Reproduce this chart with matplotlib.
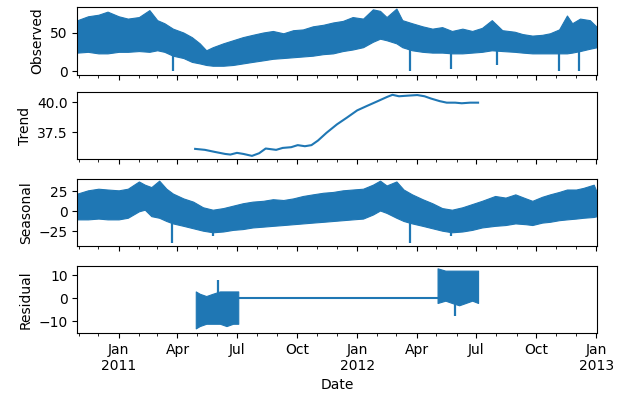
import numpy as np
import pandas as pd
import matplotlib
matplotlib.use("Agg")
import matplotlib.pyplot as plt
import matplotlib.dates as mdates
from matplotlib.ticker import FuncFormatter

# observed: band (lower / upper edge)
obs_dates = ['2010-10-30', '2010-11-15', '2010-12-01', '2010-12-15', '2011-01-01', '2011-01-15',
             '2011-02-01', '2011-02-17', '2011-03-01', '2011-03-12', '2011-03-25', '2011-04-10',
             '2011-04-23', '2011-05-05', '2011-05-15', '2011-05-25', '2011-06-10', '2011-06-25',
             '2011-07-10', '2011-07-25', '2011-08-10', '2011-08-25', '2011-09-10', '2011-09-25',
             '2011-10-10', '2011-10-25', '2011-11-10', '2011-11-25', '2011-12-10', '2011-12-25',
             '2012-01-10', '2012-01-25', '2012-02-05', '2012-02-15', '2012-03-01', '2012-03-10',
             '2012-03-25', '2012-04-10', '2012-04-25', '2012-05-10', '2012-05-25', '2012-06-10',
             '2012-06-25', '2012-07-10', '2012-07-25', '2012-08-10', '2012-08-29', '2012-09-10',
             '2012-09-25', '2012-10-10', '2012-10-22', '2012-11-05', '2012-11-17', '2012-11-25',
             '2012-12-07', '2012-12-22', '2013-01-02']
obs_low = [24, 25, 23, 23, 25, 25, 26, 25, 27, 25, 20, 17, 12, 10, 8, 7, 7, 8, 10, 12, 14, 16,
           17, 18, 19, 20, 22, 23, 26, 28, 31, 38, 42, 40, 36, 31, 27, 25, 24, 24, 23, 23, 24,
           25, 27, 26, 25, 24, 23, 23, 23, 23, 23, 24, 26, 29, 31]
obs_high = [66, 71, 73, 77, 71, 68, 70, 79, 66, 62, 55, 50, 44, 36, 27, 31, 36, 40, 44, 47, 50,
            52, 49, 53, 54, 58, 60, 63, 65, 70, 68, 80, 78, 70, 81, 66, 62, 58, 55, 57, 52, 55,
            52, 56, 66, 53, 51, 48, 46, 47, 49, 54, 72, 62, 68, 66, 57]
obs_dip_dates = ['2011-03-25', '2012-03-22', '2012-05-24', '2012-08-02', '2012-11-05', '2012-12-06']
obs_dip_vals = [0, 0, 3, 8, 0, 0]

# trend
trend_dates = ['2011-04-28', '2011-05-13', '2011-05-28', '2011-06-13', '2011-06-21', '2011-07-01',
               '2011-07-11', '2011-07-24', '2011-08-04', '2011-08-14', '2011-08-30', '2011-09-09',
               '2011-09-22', '2011-10-02', '2011-10-13', '2011-10-23', '2011-11-02', '2011-11-15',
               '2011-12-01', '2011-12-16', '2012-01-01', '2012-01-16', '2012-01-31', '2012-02-16',
               '2012-02-24', '2012-03-05', '2012-03-18', '2012-04-02', '2012-04-13', '2012-04-23',
               '2012-05-06', '2012-05-17', '2012-05-30', '2012-06-09', '2012-06-22', '2012-07-04']
trend_vals = [36.14, 36.06, 35.89, 35.72, 35.67, 35.81, 35.72, 35.56, 35.78, 36.17, 36.06, 36.22,
              36.28, 36.45, 36.36, 36.45, 36.83, 37.47, 38.17, 38.72, 39.33, 39.70, 40.06, 40.45,
              40.62, 40.50, 40.55, 40.60, 40.50, 40.31, 40.10, 39.97, 39.97, 39.92, 39.97, 39.97]

# seasonal band
seas_dates = ['2010-10-30', '2010-11-15', '2010-12-01', '2010-12-15', '2011-01-01', '2011-01-15',
              '2011-02-01', '2011-02-10', '2011-02-20', '2011-03-04', '2011-03-15', '2011-03-25',
              '2011-04-10', '2011-04-25', '2011-05-10', '2011-05-25', '2011-06-10', '2011-06-25',
              '2011-07-10', '2011-07-25', '2011-08-10', '2011-08-25', '2011-09-10', '2011-09-25',
              '2011-10-10', '2011-10-25', '2011-11-10', '2011-11-25', '2011-12-10', '2011-12-25',
              '2012-01-10', '2012-01-25', '2012-02-05', '2012-02-15', '2012-03-01', '2012-03-12',
              '2012-03-25', '2012-04-10', '2012-04-25', '2012-05-10', '2012-05-25', '2012-06-10',
              '2012-06-25', '2012-07-10', '2012-07-30', '2012-08-15', '2012-08-30', '2012-09-15',
              '2012-09-25', '2012-10-10', '2012-10-22', '2012-11-05', '2012-11-17', '2012-12-01',
              '2012-12-12', '2012-12-28', '2013-01-02']
seas_low = [-10, -10, -9, -10, -10, -8, 0, 2, -6, -8, -12, -15, -18, -21, -24, -26, -25, -23,
            -22, -20, -19, -18, -17, -16, -15, -14, -13, -12, -11, -10, -9, -4, 1, -2, -8, -12,
            -15, -18, -21, -24, -26, -25, -23, -20, -18, -17, -15, -16, -17, -14, -13, -11, -10,
            -9, -8, -7, -6]
seas_high = [22, 26, 28, 27, 26, 28, 37, 33, 30, 38, 28, 22, 16, 12, 5, 2, 4, 7, 10, 12, 13, 15,
             14, 16, 19, 21, 23, 24, 26, 27, 28, 33, 38, 32, 37, 27, 21, 15, 10, 4, 2, 5, 9, 13,
             19, 17, 21, 16, 13, 18, 21, 24, 27, 27, 29, 33, 23]
seas_dip_dates = ['2011-03-24', '2011-05-25', '2012-03-22', '2012-05-24']
seas_dip_vals = [-39, -31, -39, -30]

# residual: two noisy blocks joined by a flat run at zero
res1_dates = ['2011-04-29', '2011-05-05', '2011-05-15', '2011-05-25', '2011-06-05', '2011-06-15',
              '2011-06-25', '2011-07-03']
res1_low = [-13, -12, -11, -11, -11, -12, -11, -11]
res1_high = [3, 2, 1, 2, 3, 3, 3, 3]
res2_dates = ['2012-05-03', '2012-05-15', '2012-05-25', '2012-06-05', '2012-06-15', '2012-06-25',
              '2012-07-04']
res2_low = [-2, -1, -2, -3, -2, -1, -2]
res2_high = [13, 12, 12, 12, 12, 12, 12]
res_flat_dates = ['2011-07-03', '2012-05-03']
res_flat_vals = [0, 0]
res_spike_dates = ['2011-06-02', '2012-05-30']
res_spike_vals = [8, -7.5]

C = '#1f77b4'


def band(ax, dates, low, high):
    d = pd.to_datetime(dates)
    ax.fill_between(d, low, high, color=C, lw=0.8, edgecolor=C)


def dips(ax, dates, vals, band_dates, band_low):
    d = pd.to_datetime(dates)
    bd = mdates.date2num(pd.to_datetime(band_dates))
    tops = np.interp(mdates.date2num(d), bd, band_low) + 2
    ax.vlines(d, vals, tops, color=C, lw=1.6)


fig = plt.figure(figsize=(6.17, 3.94), dpi=100)
left, width, h = 0.1256, 0.842, 0.170
ax1 = fig.add_axes([left, 0.8096, width, 0.1726])
ax2 = fig.add_axes([left, 0.5964, width, h], sharex=ax1)
ax3 = fig.add_axes([left, 0.3756, width, h], sharex=ax1)
ax4 = fig.add_axes([left, 0.1548, width, h], sharex=ax1)

band(ax1, obs_dates, obs_low, obs_high)
dips(ax1, obs_dip_dates, obs_dip_vals, obs_dates, obs_low)
ax1.set_ylim(-5, 83)
ax1.set_yticks([0, 50])
ax1.set_ylabel('Observed')

ax2.plot(pd.to_datetime(trend_dates), trend_vals, color=C, lw=1.5)
ax2.set_ylim(35.3, 40.85)
ax2.set_yticks([37.5, 40.0])
ax2.set_ylabel('Trend')

band(ax3, seas_dates, seas_low, seas_high)
dips(ax3, seas_dip_dates, seas_dip_vals, seas_dates, seas_low)
ax3.set_ylim(-43, 40)
ax3.set_yticks([-25, 0, 25])
ax3.set_ylabel('Seasonal')

band(ax4, res1_dates, res1_low, res1_high)
band(ax4, res2_dates, res2_low, res2_high)
ax4.plot(pd.to_datetime(res_flat_dates), res_flat_vals, color=C, lw=1.5)
d1 = pd.to_datetime(res_spike_dates)
ax4.vlines(d1, [0, 0], res_spike_vals, color=C, lw=1.6)
ax4.set_ylim(-15, 14)
ax4.set_yticks([-10, 0, 10])
ax4.set_ylabel('Residual')
ax4.set_xlabel('Date')


def fmt(x, pos):
    d = mdates.num2date(x)
    if d.month == 1:
        return d.strftime('%b') + '\n' + str(d.year)
    return d.strftime('%b')


ax4.xaxis.set_major_locator(mdates.MonthLocator(bymonth=[1, 4, 7, 10]))
ax4.xaxis.set_minor_locator(mdates.MonthLocator())
ax4.xaxis.set_major_formatter(FuncFormatter(fmt))
ax4.set_xlim(pd.Timestamp('2010-10-30'), pd.Timestamp('2013-01-02'))

for ax in (ax1, ax2, ax3):
    ax.tick_params(labelbottom=False)

fig.savefig('out.png', dpi=100)
